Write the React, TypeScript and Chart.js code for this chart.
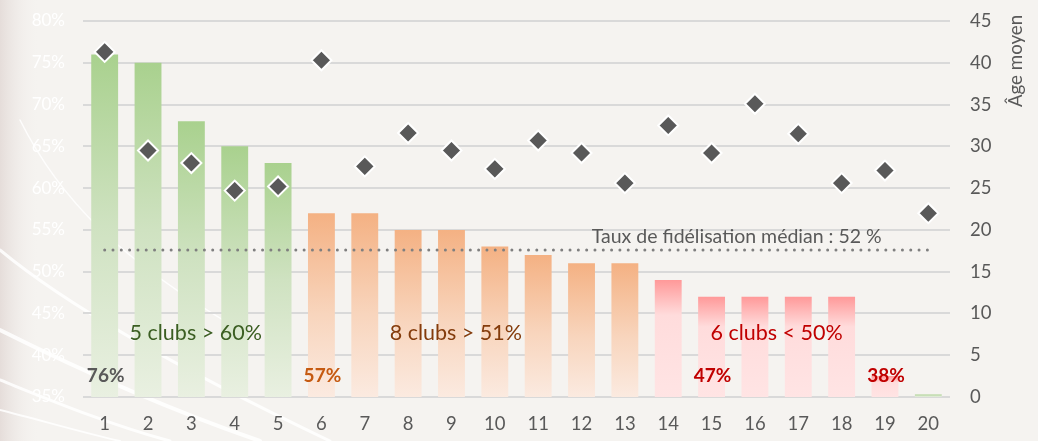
import React, { useEffect, useRef } from "react";
import { Chart, registerables } from "chart.js";

Chart.register(...registerables);

const categories = ["1", "2", "3", "4", "5", "6", "7", "8", "9", "10", "11", "12", "13", "14", "15", "16", "17", "18", "19", "20"];
const retentionRates = [76, 75, 68, 65, 63, 57, 57, 55, 55, 53, 52, 51, 51, 49, 47, 47, 47, 47, 37.5, 35.3];
const averageAges = [41.3, 29.5, 28, 24.7, 25.2, 40.3, 27.6, 31.6, 29.5, 27.3, 30.7, 29.2, 25.6, 32.5, 29.2, 35.1, 31.5, 25.6, 27.1, 22];
const barGroups = ["high", "high", "high", "high", "high", "mid", "mid", "mid", "mid", "mid", "mid", "mid", "mid", "low", "low", "low", "low", "low", "low", "high"];
const medianRate = 52.6;
const medianLabel = "Taux de fidélisation médian : 52 %";
const valueLabelIndex = [0, 5, 14, 18];
const valueLabelText = ["76%", "57%", "47%", "38%"];
const groupNotes = ["5 clubs > 60%", "8 clubs > 51%", "6 clubs < 50%"];
const groupNoteIndex = [2.1, 8.1, 15.5];
const leftTicks = [35, 40, 45, 50, 55, 60, 65, 70, 75, 80];
const rightTicks = [0, 5, 10, 15, 20, 25, 30, 35, 40, 45];

const FONT = "Lato, 'Open Sans', sans-serif";

const gradientStops: Record<string, [number, string][]> = {
  high: [[0, "#a9d18e"], [0.5, "#cfe2c1"], [1, "#e9f0e1"]],
  mid: [[0, "#f4b183"], [0.55, "#f8d5bd"], [1, "#fbeae0"]],
  low: [[0, "#ff9999"], [0.3, "#ffdcdc"], [1, "#ffe4e4"]],
};
const groupTextColor: Record<string, string> = { high: "#3b5e22", mid: "#843c0c", low: "#c00000" };
const valueLabelColor: Record<string, string> = { high: "#595959", mid: "#c55a11", low: "#c00000" };

const backgroundPlugin = {
  id: "bgPlugin",
  beforeDraw(chart: any) {
    const { ctx, width, height } = chart;
    ctx.save();
    ctx.fillStyle = "#f5f3f0";
    ctx.fillRect(0, 0, width, height);
    const edge = ctx.createLinearGradient(0, 0, 40, 0);
    edge.addColorStop(0, "rgba(225,215,212,0.8)");
    edge.addColorStop(1, "rgba(245,243,240,0)");
    ctx.fillStyle = edge;
    ctx.fillRect(0, 0, 40, height);
    ctx.strokeStyle = "rgba(255,255,255,0.85)";
    ctx.lineCap = "round";
    const curves = [
      [0, 250, 60, 300, 160, 360, 330, 441, 3],
      [0, 330, 80, 370, 170, 410, 260, 441, 4],
      [0, 380, 50, 400, 110, 425, 170, 441, 3],
      [20, 120, 60, 200, 120, 260, 240, 330, 1.5],
      [0, 410, 40, 420, 80, 432, 120, 441, 2],
    ];
    for (const c of curves) {
      ctx.lineWidth = c[8];
      ctx.beginPath();
      ctx.moveTo(c[0], c[1]);
      ctx.bezierCurveTo(c[2], c[3], c[4], c[5], c[6], c[7]);
      ctx.stroke();
    }
    ctx.restore();
  },
};

const textPlugin = {
  id: "textPlugin",
  afterDraw(chart: any) {
    const { ctx } = chart;
    const xs = chart.scales.x;
    const ys = chart.scales.y;
    ctx.save();
    ctx.textAlign = "center";
    ctx.textBaseline = "middle";
    ctx.font = `bold 19px ${FONT}`;
    valueLabelIndex.forEach((idx, i) => {
      ctx.fillStyle = valueLabelColor[barGroups[idx]];
      ctx.fillText(valueLabelText[i], xs.getPixelForValue(idx) + 1, ys.getPixelForValue(37.5));
    });
    ctx.font = `21.5px ${FONT}`;
    const noteGroups = ["high", "mid", "low"];
    groupNotes.forEach((t, i) => {
      ctx.fillStyle = groupTextColor[noteGroups[i]];
      ctx.fillText(t, xs.getPixelForValue(groupNoteIndex[i]), ys.getPixelForValue(42.7));
    });
    ctx.font = `19.5px ${FONT}`;
    ctx.fillStyle = "#595959";
    ctx.fillText(medianLabel, xs.getPixelForValue(14.58), ys.getPixelForValue(54.2));
    ctx.font = `18.7px ${FONT}`;
    ctx.translate(1016, 61);
    ctx.rotate(-Math.PI / 2);
    ctx.fillText("Âge moyen", 0, 0);
    ctx.restore();
  },
};

function barGradient(context: any) {
  const chart = context.chart;
  const area = chart.chartArea;
  const ys = chart.scales.y;
  const i = context.dataIndex;
  if (!area || !ys || i === undefined) return gradientStops.high[0][1];
  const top = ys.getPixelForValue(retentionRates[i]);
  const bottom = area.bottom;
  const g = chart.ctx.createLinearGradient(0, top, 0, Math.max(bottom, top + 1));
  for (const [o, c] of gradientStops[barGroups[i]]) g.addColorStop(o, c);
  return g;
}

export default function App() {
  const ref = useRef<HTMLCanvasElement | null>(null);
  useEffect(() => {
    if (!ref.current) return;
    const chart = new Chart(ref.current, {
      data: {
        labels: categories,
        datasets: [
          {
            type: "line",
            label: "Âge moyen",
            data: averageAges,
            yAxisID: "y1",
            showLine: false,
            pointStyle: "rectRot",
            pointRadius: 10,
            pointBackgroundColor: "#595959",
            pointBorderColor: "#ffffff",
            pointBorderWidth: 2,
            order: 0,
          },
          {
            type: "line",
            label: "Médiane",
            data: categories.map(() => medianRate),
            yAxisID: "y",
            borderColor: "#7f7f7f",
            borderWidth: 3,
            borderDash: [0.01, 8.3],
            borderCapStyle: "round",
            pointRadius: 0,
            fill: false,
            order: 1,
          },
          {
            type: "bar",
            label: "Taux de fidélisation",
            data: retentionRates,
            yAxisID: "y",
            backgroundColor: barGradient,
            borderWidth: 0,
            categoryPercentage: 1,
            barPercentage: 0.62,
            order: 2,
          },
        ],
      } as any,
      options: {
        animation: false,
        responsive: true,
        maintainAspectRatio: false,
        layout: { padding: { top: 21, bottom: 0, left: 0, right: 0 } },
        plugins: { legend: { display: false }, tooltip: { enabled: false } },
        scales: {
          x: {
            offset: true,
            grid: { display: false, drawTicks: false },
            border: { display: false },
            ticks: { color: "#595959", font: { family: FONT, size: 18.5 }, padding: 16 },
            afterFit(scale: any) { scale.height = 44; },
          },
          y: {
            position: "left",
            min: 35,
            max: 80,
            afterBuildTicks(scale: any) { scale.ticks = leftTicks.map((v) => ({ value: v })); },
            ticks: { color: "#ffffff", font: { family: FONT, size: 17 }, padding: 18, callback: (v: any) => v + "%" },
            grid: { color: "#d9d9d9", lineWidth: 2, drawTicks: false },
            border: { display: false },
            afterFit(scale: any) { scale.width = 83; scale.paddingTop = 10; scale.paddingBottom = 10; },
          },
          y1: {
            position: "right",
            min: 0,
            max: 45,
            afterBuildTicks(scale: any) { scale.ticks = rightTicks.map((v) => ({ value: v })); },
            ticks: { color: "#595959", font: { family: FONT, size: 18.5 }, padding: 20 },
            grid: { display: false, drawTicks: false },
            border: { display: false },
            afterFit(scale: any) { scale.width = 88; scale.paddingTop = 10; scale.paddingBottom = 10; },
          },
        },
      },
      plugins: [backgroundPlugin, textPlugin],
    } as any);
    return () => chart.destroy();
  }, []);
  return (
    <div style={{ position: "absolute", left: 0, top: 0, width: 1038, height: 441 }}>
      <canvas ref={ref} />
    </div>
  );
}
